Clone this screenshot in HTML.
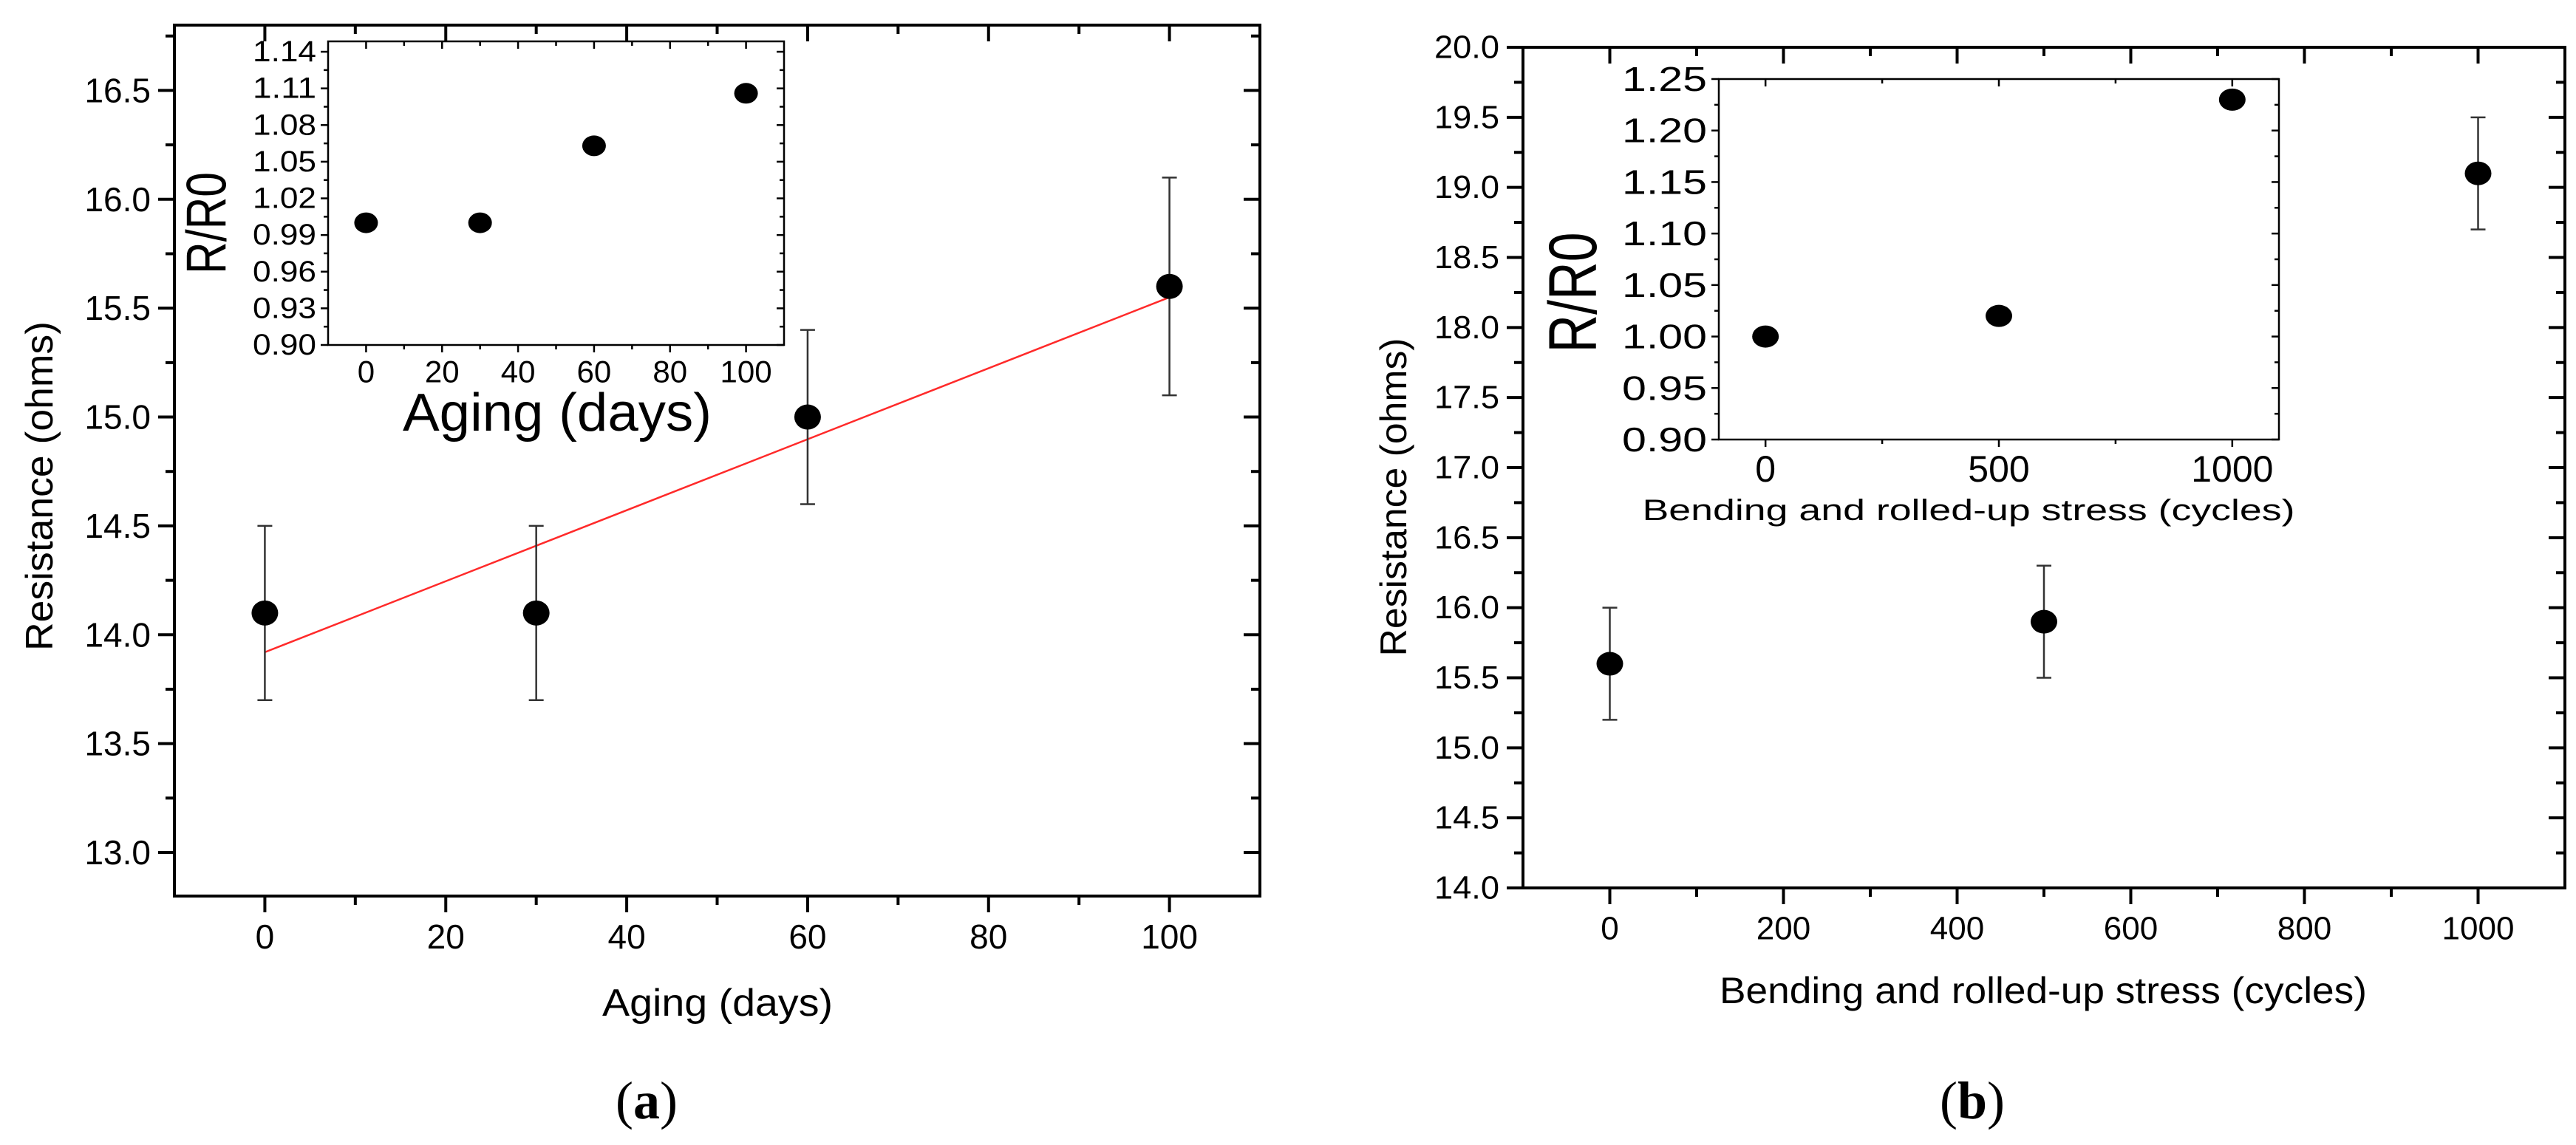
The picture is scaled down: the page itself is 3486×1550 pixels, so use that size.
<!DOCTYPE html>
<html><head><meta charset="utf-8"><style>
html,body{margin:0;padding:0;background:#fff;}
svg{display:block;font-family:"Liberation Sans",Arial,sans-serif;}
</style></head><body>
<svg id="fig" width="3486" height="1550" viewBox="0 0 3486 1550" xmlns="http://www.w3.org/2000/svg"></svg>
<script>
// ---- data ----
const agingDays = [0, 30, 60, 100];
const agingRes = [14.1, 14.1, 15.0, 15.6];
const agingErr = [0.4, 0.4, 0.4, 0.5];
const agingFit = [13.92, 15.55]; // fit values at x=0 and x=100
const agingRatio = [1.0, 1.0, 1.063, 1.106];
const agingXTicks = [0, 20, 40, 60, 80, 100];
const agingYTicks = [13.0, 13.5, 14.0, 14.5, 15.0, 15.5, 16.0, 16.5];
const agingInsetYTicks = [0.90, 0.93, 0.96, 0.99, 1.02, 1.05, 1.08, 1.11, 1.14];
const agingInsetXTicks = [0, 20, 40, 60, 80, 100];

const cycles = [0, 500, 1000];
const cycleRes = [15.6, 15.9, 19.1];
const cycleErr = [0.4, 0.4, 0.4];
const cycleRatio = [1.0, 1.02, 1.23];
const cycleXTicks = [0, 200, 400, 600, 800, 1000];
const cycleYTicks = [14.0,14.5,15.0,15.5,16.0,16.5,17.0,17.5,18.0,18.5,19.0,19.5,20.0];
const cycleInsetYTicks = [0.90,0.95,1.00,1.05,1.10,1.15,1.20,1.25];
const cycleInsetXTicks = [0, 500, 1000];

const NS = "http://www.w3.org/2000/svg";
const svg = document.getElementById('fig');
function mk(tag, attrs, parent) {
  const e = document.createElementNS(NS, tag);
  for (const k in attrs) e.setAttribute(k, attrs[k]);
  (parent || svg).appendChild(e);
  return e;
}
function scale(d0, d1, r0, r1) { return v => r0 + (v - d0) * (r1 - r0) / (d1 - d0); }

function axesBox(g, L, R, T, B, sw) {
  const r = mk('rect', {x:L, y:T, width:R-L, height:B-T, fill:'none', stroke:'#000', 'stroke-width':sw}, g);
  
  
}
function tick(g, x1, y1, x2, y2, sw) {
  mk('line', {x1, y1, x2, y2, stroke:'#000', 'stroke-width':sw}, g);
}
function label(g, x, y, txt, size, anchor, name, len) {
  const t = mk('text', {x, y, 'font-size':size, 'text-anchor':anchor, 'dominant-baseline':'central', fill:'#000'}, g);
  if (len) { t.setAttribute('textLength', len); t.setAttribute('lengthAdjust', 'spacingAndGlyphs'); }
  t.textContent = txt;
  
  
  return t;
}

function drawPanel(cfg) {
  const g = mk('g', {});
  
  
  const sx = scale(cfg.xd[0], cfg.xd[1], cfg.L, cfg.R);
  const sy = scale(cfg.yd[0], cfg.yd[1], cfg.B, cfg.T);
  const sw = cfg.sw, M = cfg.major, m = cfg.minor;
  // y ticks
  cfg.yTicks.forEach((v, i) => {
    const y = sy(v);
    tick(g, cfg.L - M, y, cfg.L, y, sw);
    tick(g, cfg.R, y, cfg.R - M, y, sw);
    label(g, cfg.L - M - cfg.ylabGap, y, v.toFixed(cfg.yDec), cfg.yFont, 'end', 'y-tick-label', cfg.yLabLen);
    if (i < cfg.yTicks.length - 1) {
      const ym = sy((v + cfg.yTicks[i+1]) / 2);
      tick(g, cfg.L - m, ym, cfg.L, ym, sw);
      tick(g, cfg.R, ym, cfg.R - m, ym, sw);
    }
  });
  const ystep = cfg.yTicks[1] - cfg.yTicks[0];
  [cfg.yTicks[0] - ystep/2, cfg.yTicks[cfg.yTicks.length-1] + ystep/2].forEach(v => {
    if (v > cfg.yd[0] && v < cfg.yd[1]) { const y = sy(v); tick(g, cfg.L - m, y, cfg.L, y, sw); tick(g, cfg.R, y, cfg.R - m, y, sw); }
  });
  // x ticks
  const xstep = cfg.xTicks[1] - cfg.xTicks[0];
  cfg.xTicks.forEach(v => {
    const x = sx(v);
    tick(g, x, cfg.B, x, cfg.B + M, sw);
    tick(g, x, cfg.T, x, cfg.T + M, sw);
    label(g, x, cfg.B + cfg.xlabOff, String(v), cfg.xFont, 'middle', 'x-tick-label', null);
  });
  for (let v = cfg.xTicks[0] - xstep/2; v < cfg.xd[1]; v += xstep) {
    if (v <= cfg.xd[0]) continue;
    const x = sx(v);
    tick(g, x, cfg.B, x, cfg.B + m, sw);
    tick(g, x, cfg.T, x, cfg.T + m, sw);
  }
  axesBox(g, cfg.L, cfg.R, cfg.T, cfg.B, sw);
  // titles
  const xt = label(g, cfg.xTitle.x, cfg.xTitle.y, cfg.xTitle.text, cfg.xTitle.size, 'middle', 'x-axis-title', cfg.xTitle.len);
  const yt = label(g, 0, 0, cfg.yTitle.text, cfg.yTitle.size, 'middle', 'y-axis-title', cfg.yTitle.len);
  yt.setAttribute('transform', `translate(${cfg.yTitle.x},${cfg.yTitle.y}) rotate(-90)`);
  return {g, sx, sy};
}

function points(g, sx, sy, xs, ys, errs, rx, ry, name) {
  xs.forEach((xv, i) => {
    const x = sx(xv), y = sy(ys[i]);
    if (errs) {
      const y1 = sy(ys[i] + errs[i]), y2 = sy(ys[i] - errs[i]);
      const eb = mk('g', {stroke:'#333', 'stroke-width':2.5}, g);
      
      
      mk('line', {x1:x, y1:y1, x2:x, y2:y2}, eb);
      mk('line', {x1:x-10, y1:y1, x2:x+10, y2:y1}, eb);
      mk('line', {x1:x-10, y1:y2, x2:x+10, y2:y2}, eb);
    }
    const c = mk('ellipse', {cx:x, cy:y, rx, ry, fill:'#000'}, g);
    
    
  });
}

// ---- Panel (a) ----
const A = drawPanel({name:'panel-a-main', L:236, R:1705, T:34, B:1213, xd:[-10,110], yd:[12.8,16.8],
  sw:4, major:22, minor:12, yTicks:agingYTicks, xTicks:agingXTicks, yDec:1, yFont:46, xFont:46,
  ylabGap:10, xlabOff:55,
  xTitle:{x:971, y:1358, text:'Aging (days)', size:52, len:312},
  yTitle:{x:54, y:658, text:'Resistance (ohms)', size:52, len:446}});
// fit line
const fit = mk('line', {x1:A.sx(agingDays[0]), y1:A.sy(agingFit[0]), x2:A.sx(agingDays[agingDays.length-1]), y2:A.sy(agingFit[1]), stroke:'#ff2a2a', 'stroke-width':2.5}, A.g);


points(A.g, A.sx, A.sy, agingDays, agingRes, agingErr, 18, 17, 'data-point');

// inset a
const Ai = drawPanel({name:'panel-a-inset', L:444, R:1061, T:56, B:467, xd:[-10,110], yd:[0.90,1.1485],
  sw:2.5, major:10, minor:6, yTicks:agingInsetYTicks, xTicks:agingInsetXTicks, yDec:2, yFont:40, xFont:42,
  ylabGap:6, xlabOff:36, yLabLen:86,
  xTitle:{x:754, y:559, text:'Aging (days)', size:72, len:418},
  yTitle:{x:280, y:302, text:'R/R0', size:76, len:138}});
points(Ai.g, Ai.sx, Ai.sy, agingDays, agingRatio, null, 16, 14, 'inset-point');

// ---- Panel (b) ----
const B = drawPanel({name:'panel-b-main', L:2061, R:3471, T:64, B:1202, xd:[-100,1100], yd:[14.0,20.0],
  sw:4, major:22, minor:12, yTicks:cycleYTicks, xTicks:cycleXTicks, yDec:1, yFont:44, xFont:44,
  ylabGap:10, xlabOff:55, yLabLen:88,
  xTitle:{x:2765, y:1341, text:'Bending and rolled-up stress (cycles)', size:50, len:876},
  yTitle:{x:1886, y:673, text:'Resistance (ohms)', size:50, len:431}});
points(B.g, B.sx, B.sy, cycles, cycleRes, cycleErr, 18, 16, 'data-point');

const Bi = drawPanel({name:'panel-b-inset', L:2326, R:3084, T:107, B:595, xd:[-100,1100], yd:[0.90,1.25],
  sw:2.5, major:10, minor:6, yTicks:cycleInsetYTicks, xTicks:cycleInsetXTicks, yDec:2, yFont:46, xFont:50,
  ylabGap:6, xlabOff:40, yLabLen:115,
  xTitle:{x:2664, y:691, text:'Bending and rolled-up stress (cycles)', size:40, len:883},
  yTitle:{x:2129, y:396, text:'R/R0', size:92, len:163}});
points(Bi.g, Bi.sx, Bi.sy, cycles, cycleRatio, null, 18, 15, 'inset-point');

// captions
[[875,'a','caption-a'],[2669,'b','caption-b']].forEach(([x, l, n]) => {
  const t = mk('text', {x, y:1490, 'font-size':72, 'text-anchor':'middle', 'dominant-baseline':'central', 'font-family':'"Liberation Serif", serif'});
  
  
  const s1 = mk('tspan', {}, t); s1.textContent = '(';
  const s2 = mk('tspan', {'font-weight':'bold'}, t); s2.textContent = l;
  const s3 = mk('tspan', {}, t); s3.textContent = ')';
});
</script>
</body></html>
